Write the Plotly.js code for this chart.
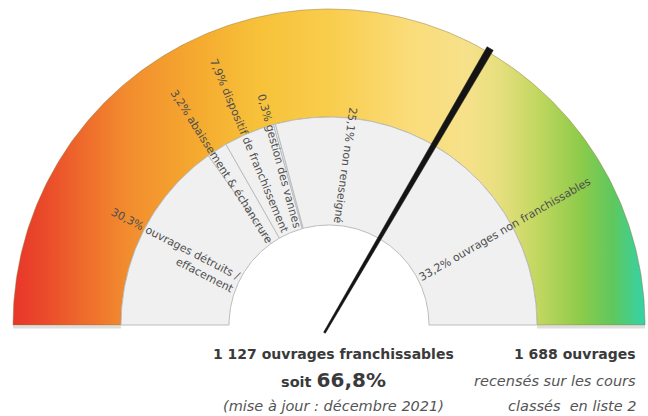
<!DOCTYPE html>
<html><head><meta charset="utf-8">
<script src="https://cdn.plot.ly/plotly-3.0.1.min.js"></script>
<style>html,body{margin:0;padding:0;background:#fff}#chart{width:648px;height:416px}</style>
</head><body><div id="chart"></div>
<script>
// ---- data ----
const categories = ["ouvrages détruits /<br>effacement", "abaissement & échancrure", "dispositif de franchissement", "gestion des vannes", "non renseigné", "ouvrages non franchissables"];
const pctLabels = ["30,3%", "3,2%", "7,9%", "0,3%", "25,1%", "33,2%"];
const shares = [30.3, 3.2, 7.9, 0.3, 25.1, 33.2];
const totalOuvrages = 1688;
const franchissables = 1127;
const franchissablePct = 66.8;
const updateText = "(mise à jour : décembre 2021)";

// ---- geometry / style ----
const R_OUT = 316, R_MID = 208, R_IN = 100;
const LFONT = "DejaVu Sans";
const BFONT = "DejaVu Sans";
const ang = p => Math.PI * (1 - p / 100);   // share position -> angle
function arc(r, p0, p1, n) {
  const xs = [], ys = [];
  for (let i = 0; i <= n; i++) {
    const a = ang(p0 + (p1 - p0) * i / n);
    xs.push(r * Math.cos(a)); ys.push(r * Math.sin(a));
  }
  return [xs, ys];
}
function ring(r0, r1, p0, p1, n) {
  const [ox, oy] = arc(r1, p0, p1, n);
  const [ix, iy] = arc(r0, p1, p0, n);
  return [ox.concat(ix, [ox[0]]), oy.concat(iy, [oy[0]])];
}

const traces = [];
// outer gradient band
const band = ring(R_MID, R_OUT, 0, 100, 240);
traces.push({
  type: "scatter", mode: "lines", x: band[0], y: band[1], fill: "toself",
  line: {color: "rgba(140,115,50,0.45)", width: 1},
  fillgradient: {type: "horizontal", colorscale: [
    [0, "#e8362a"], [0.05, "#ea4a2a"], [0.11, "#ee6a2c"], [0.18, "#f28c2e"], [0.3, "#f5ac30"],
    [0.39, "#f7c23a"], [0.5, "#f9cd4c"], [0.63, "#fadc7a"], [0.72, "#f6e18a"], [0.77, "#e6df7e"],
    [0.83, "#c2d760"], [0.9, "#8ccb4a"], [0.95, "#5ec85e"], [1, "#34d2aa"]]},
  hoverinfo: "skip", showlegend: false
});
// bottom shadows
[[-R_OUT, -R_MID], [R_MID, R_OUT]].forEach(s => traces.push({
  type: "scatter", mode: "lines", x: s, y: [-2, -2],
  line: {color: "rgba(0,0,0,0.13)", width: 3}, hoverinfo: "skip", showlegend: false
}));

// gray sectors
let cum = 0;
const mids = [];
shares.forEach((s, i) => {
  const seg = ring(R_IN, R_MID, cum, cum + s, Math.max(2, Math.round(s * 3)));
  traces.push({
    type: "scatter", mode: "lines", x: seg[0], y: seg[1], fill: "toself",
    fillcolor: "#f0f0f0", line: {color: "#bdbdbd", width: 1},
    hoverinfo: "skip", showlegend: false
  });
  mids.push(cum + s / 2);
  cum += s;
});

// needle
const na = ang(franchissablePct);
const ux = Math.cos(na), uy = Math.sin(na), px = -uy, py = ux;
const b0 = -9, b1 = 320, w0 = 1, w1 = 3.6;
traces.push({
  type: "scatter", mode: "lines", fill: "toself", fillcolor: "#141414",
  x: [b0 * ux + px * w0, b1 * ux + px * w1, b1 * ux - px * w1, b0 * ux - px * w0, b0 * ux + px * w0],
  y: [b0 * uy + py * w0, b1 * uy + py * w1, b1 * uy - py * w1, b0 * uy - py * w0, b0 * uy + py * w0],
  line: {color: "#141414", width: 0.5}, hoverinfo: "skip", showlegend: false
});

// labels
const cv = document.createElement("canvas").getContext("2d");
const LSIZE = 11;
cv.font = LSIZE + "px '" + LFONT + "'";
const annotations = [];
const SHIFT = 5;
shares.forEach((s, i) => {
  const text = pctLabels[i] + " " + categories[i];
  const lines = text.split("<br>");
  const w = Math.max(...lines.map(l => cv.measureText(l).width));
  const rc = R_IN + 2 + w / 2;
  const a = ang(mids[i]);
  const deg = mids[i] * 1.8;
  const outward = deg > 100;
  const ta = outward ? deg - 180 : deg;
  const t = ta * Math.PI / 180;
  annotations.push({
    x: rc * Math.cos(a) - SHIFT * Math.sin(t), y: rc * Math.sin(a) - SHIFT * Math.cos(t),
    xref: "x", yref: "y",
    text: text, showarrow: false, textangle: ta,
    align: outward ? "left" : "right",
    font: {family: LFONT, size: LSIZE, color: "#4e4e4e"}, borderpad: 0
  });
});

// bottom texts
const pctTxt = (Math.round(franchissables / totalOuvrages * 1000) / 10).toFixed(1).replace(".", ",") + "%";
const fmt = n => String(n).replace(/\B(?=(\d{3})+(?!\d))/g, " ");
const cX = 4;
const BS = 14, IS = 14.5;
annotations.push(
  {x: cX, y: -29, xref: "x", yref: "y", showarrow: false, text: "<b>" + fmt(franchissables) + " ouvrages franchissables</b>",
   font: {family: BFONT, size: BS, color: "#3a3a3a"}},
  {x: cX, y: -55, xref: "x", yref: "y", showarrow: false, text: "<b>soit <span style='font-size:20px'>" + pctTxt + "</span></b>",
   font: {family: BFONT, size: 14.5, color: "#3a3a3a"}},
  {x: cX, y: -81, xref: "x", yref: "y", showarrow: false, text: "<i>" + updateText + "</i>",
   font: {family: BFONT, size: IS, color: "#555"}},
  {x: 309, y: -29, xref: "x", yref: "y", xanchor: "right", showarrow: false, text: "<b>" + fmt(totalOuvrages) + " ouvrages</b>",
   font: {family: BFONT, size: BS, color: "#3a3a3a"}},
  {x: 309, y: -56, xref: "x", yref: "y", xanchor: "right", showarrow: false, text: "<i>recensés sur les cours</i>",
   font: {family: BFONT, size: IS, color: "#555"}},
  {x: 309, y: -81, xref: "x", yref: "y", xanchor: "right", showarrow: false, text: "<i>classés  en liste 2</i>",
   font: {family: BFONT, size: IS, color: "#555"}}
);

const layout = {
  width: 648, height: 416, margin: {l: 0, r: 0, t: 0, b: 0},
  paper_bgcolor: "#fff", plot_bgcolor: "#fff",
  xaxis: {range: [-329, 319], visible: false, fixedrange: true},
  yaxis: {range: [-91, 325], visible: false, fixedrange: true},
  annotations: annotations, showlegend: false
};
Plotly.newPlot("chart", traces, layout, {staticPlot: true});
</script></body></html>
